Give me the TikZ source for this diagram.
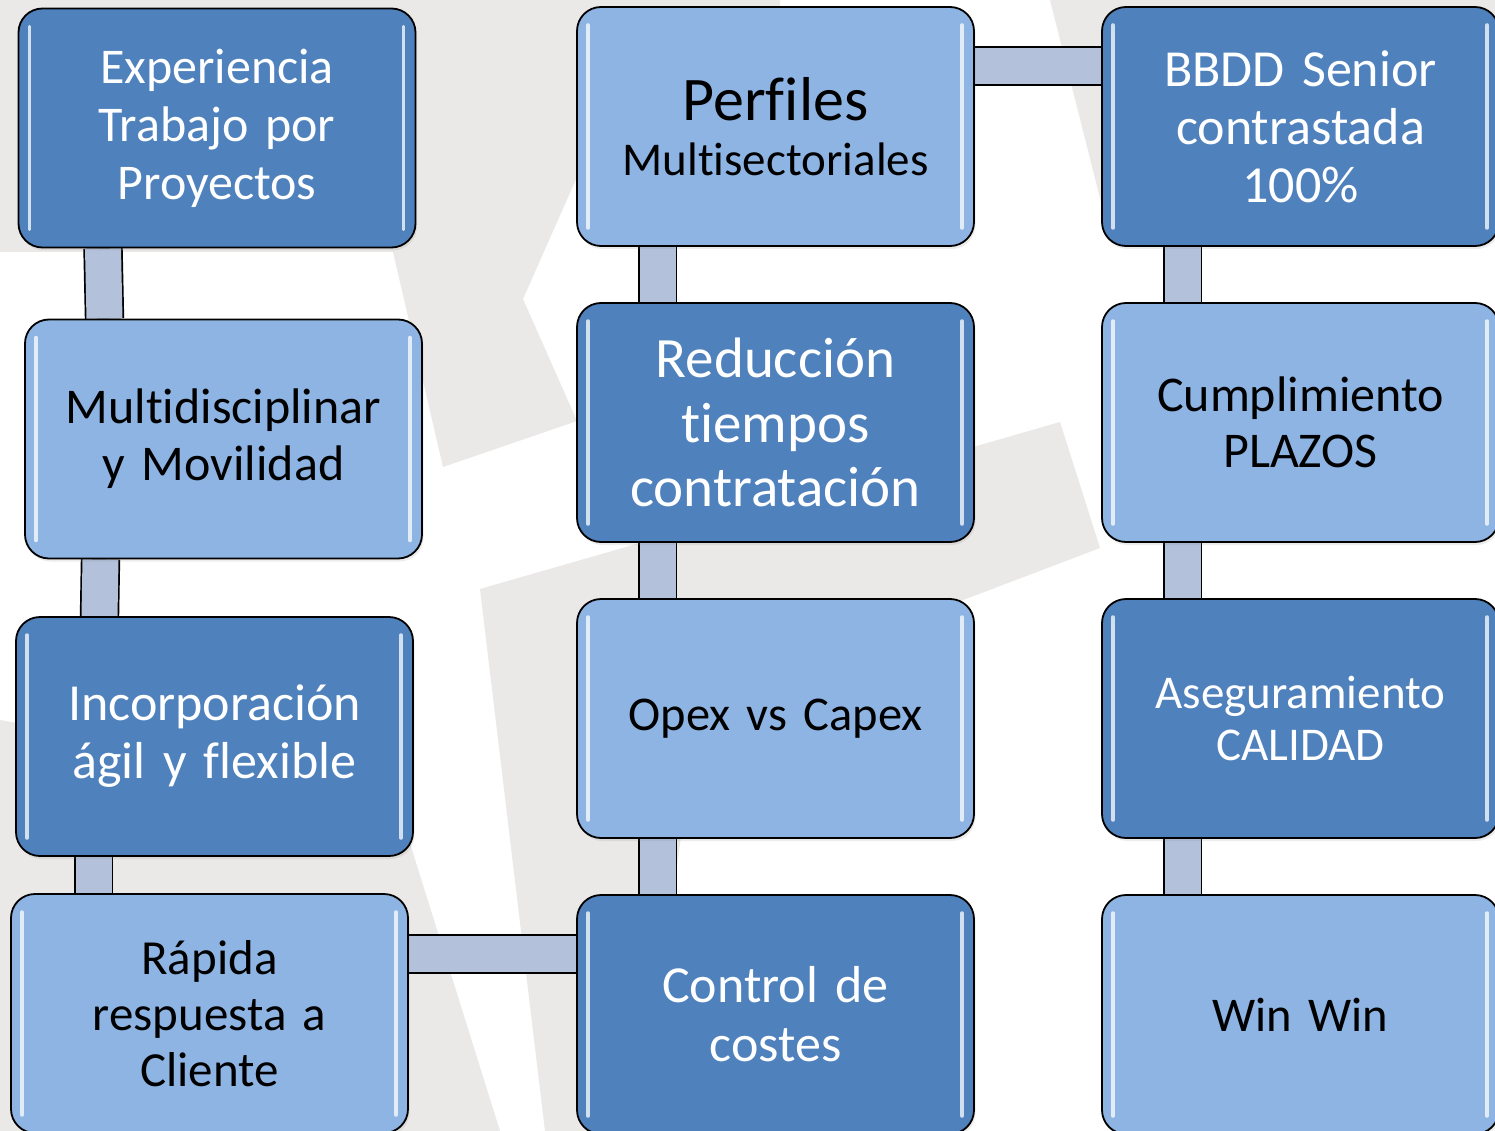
\documentclass[tikz,border=0pt]{standalone}
\usepackage{fontspec}
\setmainfont{Carlito}[Ligatures=NoCommon]
\usetikzlibrary{shadows}

\definecolor{boxdark}{HTML}{4F81BD}
\definecolor{boxlight}{HTML}{8EB4E3}
\definecolor{barfill}{HTML}{B3C1DB}
\definecolor{wmgrey}{HTML}{EBE8E8}

\pgfdeclarelayer{watermark}
\pgfdeclarelayer{bars}
\pgfsetlayers{watermark,bars,main}

\begin{document}
\begin{tikzpicture}[
    x=1pt, y=-1pt,
    box/.style={
        rectangle,
        rounded corners=24pt,
        minimum width=397pt,
        minimum height=239pt,
        text width=385pt,
        align=center,
        inner sep=0pt,
        draw=black,
        line width=1.8pt,
        fill=#1,
        drop shadow={opacity=0.15, shadow xshift=1.5pt, shadow yshift=-3pt},
        path picture={
            \draw[gloss] ([xshift=11pt,yshift=-18pt]path picture bounding box.north west)
                -- ([xshift=11pt,yshift=18pt]path picture bounding box.south west);
            \draw[gloss] ([xshift=-12pt,yshift=-18pt]path picture bounding box.north east)
                -- ([xshift=-12pt,yshift=18pt]path picture bounding box.south east);
        },
        font=\fontsize{50}{57}\selectfont
    },
    darkbox/.style={box=boxdark, text=white},
    lightbox/.style={box=boxlight, text=black},
    gloss/.style={line width=3.5pt, line cap=round, white, opacity=0.75},
    bar/.style={draw=black, line width=1.7pt, double=barfill, double distance=36pt}
]
\useasboundingbox (0,0) rectangle (1495,1131);

% column 1
\node[darkbox, font=\fontsize{50}{58}\selectfont] (exp) at (217,128) {Experiencia\\Trabajo por\\Proyectos};
\node[lightbox] (multi) at (223.5,439) {Multidisciplinar\\y Movilidad};
\node[darkbox, font=\fontsize{52}{58}\selectfont] (incorp) at (214.5,736.5) {Incorporación\\ágil y flexible};
\node[lightbox, font=\fontsize{49}{56}\selectfont] (rapida) at (209.5,1013.5) {Rápida\\respuesta a\\Cliente};

% column 2
\node[lightbox, font=\fontsize{47}{55}\selectfont] (perfiles) at (775.5,126.5) {{\fontsize{62}{62}\selectfont Perfiles}\\Multisectoriales};
\node[darkbox, font=\fontsize{57}{64.5}\selectfont] (reduccion) at (775.5,422.5) {Reducción\\tiempos\\contratación};
\node[lightbox, font=\fontsize{48.5}{56}\selectfont] (opex) at (775.5,718.5) {Opex vs Capex};
\node[darkbox, font=\fontsize{52}{59}\selectfont] (control) at (775.5,1014.5) {Control de\\costes};

% column 3
\node[darkbox, font=\fontsize{52}{58}\selectfont] (bbdd) at (1300.5,126.5) {BBDD Senior\\contrastada\\100\%};
\node[lightbox, font=\fontsize{50}{56}\selectfont] (cumpl) at (1300.5,422.5) {Cumplimiento\\PLAZOS};
\node[darkbox, font=\fontsize{47}{52}\selectfont] (aseg) at (1300.5,718.5) {Aseguramiento\\CALIDAD};
\node[lightbox, font=\fontsize{48.5}{56}\selectfont] (win) at (1300.5,1014.5) {Win Win};

% connectors
\begin{pgfonlayer}{bars}
\draw[bar] ([xshift=-114pt]exp.south) -- ([xshift=-119pt]multi.north);
\draw[bar] ([xshift=-123pt]multi.south) -- ([xshift=-115pt]incorp.north);
\draw[bar] ([xshift=-121pt]incorp.south) -- ([xshift=-116pt]rapida.north);
\foreach \a/\b in {perfiles/reduccion, reduccion/opex, opex/control,
                   bbdd/cumpl, cumpl/aseg, aseg/win}
    \draw[bar] ([xshift=-118pt]\a.south) -- ([xshift=-118pt]\b.north);
\draw[bar] ([yshift=60.5pt]perfiles.east) -- ([yshift=60.5pt]bbdd.west);
\draw[bar] ([yshift=59.5pt]rapida.east) -- ([yshift=60.5pt]control.west);
\end{pgfonlayer}

% faint logo behind
\begin{pgfonlayer}{watermark}
\fill[white] (0,0) rectangle (1495,1131);
\fill[wmgrey] (0,0) -- (780,0) -- (780,177) -- (577,177) -- (523,299) -- (577,421)
    -- (443,467) -- (393,252) -- (0,252) -- cycle;
\fill[wmgrey] (480,589) -- (1060,422) -- (1100,548) -- (700,700) -- (640,1131)
    -- (545,1131) -- cycle;
\fill[wmgrey] (0,720) -- (395,790) -- (413,853) -- (500,1131) -- (0,1131) -- cycle;
\fill[wmgrey] (1050,0) -- (1495,0) -- (1495,238) -- (1110,238) -- cycle;
\end{pgfonlayer}

\end{tikzpicture}
\end{document}
